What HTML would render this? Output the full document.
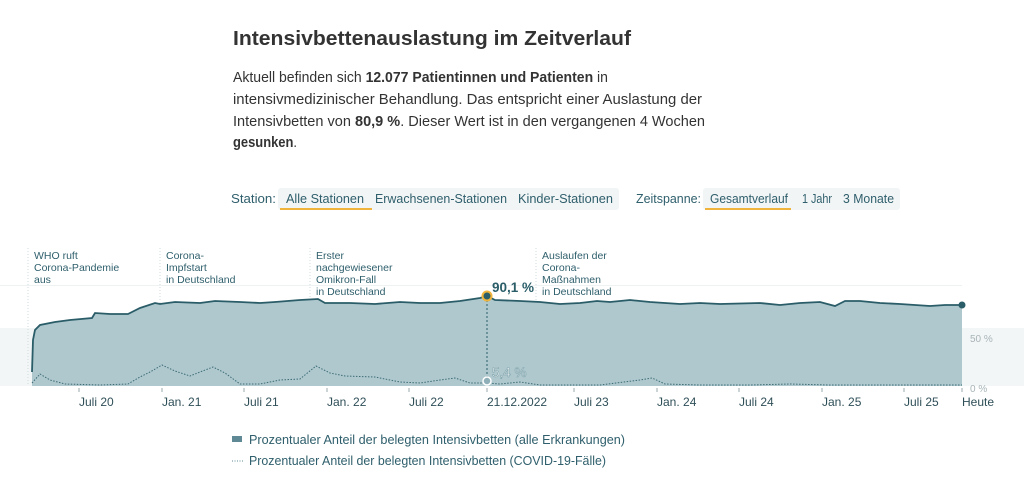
<!DOCTYPE html>
<html><head><meta charset="utf-8"><style>
html,body{margin:0;padding:0;background:#fff;width:1024px;height:481px;overflow:hidden}
svg{display:block}
text{font-family:"Liberation Sans",sans-serif}
</style></head><body>
<svg width="1024" height="481" viewBox="0 0 1024 481">
<text x="233" y="45" font-size="20" font-weight="bold" fill="#333" textLength="398" lengthAdjust="spacingAndGlyphs">Intensivbettenauslastung im Zeitverlauf</text>
<g font-size="14.5" fill="#333">
<text x="233" y="82" textLength="375" lengthAdjust="spacingAndGlyphs">Aktuell befinden sich <tspan font-weight="bold">12.077 Patientinnen und Patienten</tspan> in</text>
<text x="233" y="104" textLength="469" lengthAdjust="spacingAndGlyphs">intensivmedizinischer Behandlung. Das entspricht einer Auslastung der</text>
<text x="233" y="126" textLength="472" lengthAdjust="spacingAndGlyphs">Intensivbetten von <tspan font-weight="bold">80,9 %</tspan>. Dieser Wert ist in den vergangenen 4 Wochen</text>
<text x="233" y="147" textLength="64" lengthAdjust="spacingAndGlyphs" font-weight="bold">gesunken<tspan font-weight="normal">.</tspan></text>
</g>
<g font-size="12.5" fill="#2f5f6c">
<text x="231" y="203" textLength="45" lengthAdjust="spacingAndGlyphs">Station:</text>
<rect x="278" y="188" width="341" height="22" rx="3" fill="#f2f5f6"/>
<rect x="280" y="208" width="92" height="2" fill="#f0b43c"/>
<text x="286" y="203" textLength="78" lengthAdjust="spacingAndGlyphs">Alle Stationen</text>
<text x="375" y="203" textLength="132" lengthAdjust="spacingAndGlyphs">Erwachsenen-Stationen</text>
<text x="518" y="203" textLength="95" lengthAdjust="spacingAndGlyphs">Kinder-Stationen</text>
<text x="636" y="203" textLength="65" lengthAdjust="spacingAndGlyphs">Zeitspanne:</text>
<rect x="703" y="188" width="197" height="22" rx="3" fill="#f2f5f6"/>
<rect x="705" y="208" width="86" height="2" fill="#f0b43c"/>
<text x="710" y="203" textLength="78" lengthAdjust="spacingAndGlyphs">Gesamtverlauf</text>
<text x="802" y="203" textLength="30" lengthAdjust="spacingAndGlyphs">1 Jahr</text>
<text x="843" y="203" textLength="51" lengthAdjust="spacingAndGlyphs">3 Monate</text>
</g>
<rect x="0" y="285" width="962" height="1" fill="#eef2f3"/>
<rect x="0" y="328" width="1024" height="58" fill="#f3f6f7"/>
<g stroke="#cfdadd" stroke-dasharray="1,2" stroke-width="1">
<line x1="28" y1="248" x2="28" y2="386"/><line x1="160" y1="248" x2="160" y2="386"/><line x1="310" y1="248" x2="310" y2="386"/><line x1="536" y1="248" x2="536" y2="300"/>
</g>
<path fill="#aec8ce" d="M32,386 L32,372 L33,340 L35,330 L40,325 L55,322 L70,320 L92,318 L95,313 L110,314 L128,314 L140,308 L155,303 L160,304 L175,302 L200,303 L215,301 L240,302 L260,303 L275,302 L300,300 L318,299 L325,303 L350,303 L375,304 L400,302 L420,303 L440,303 L460,301 L480,298 L487,296 L495,300 L520,301 L540,302 L560,304 L580,303 L597,301 L610,302 L630,300 L650,302 L680,304 L700,303 L720,304 L760,303 L780,305 L800,303 L820,302 L835,306 L845,301 L860,301 L880,303 L900,304 L930,306 L945,305 L962,305 L962,386 Z"/>
<path fill="none" stroke="#2a5d68" stroke-width="1.8" d="M32,372 L33,340 L35,330 L40,325 L55,322 L70,320 L92,318 L95,313 L110,314 L128,314 L140,308 L155,303 L160,304 L175,302 L200,303 L215,301 L240,302 L260,303 L275,302 L300,300 L318,299 L325,303 L350,303 L375,304 L400,302 L420,303 L440,303 L460,301 L480,298 L487,296 L495,300 L520,301 L540,302 L560,304 L580,303 L597,301 L610,302 L630,300 L650,302 L680,304 L700,303 L720,304 L760,303 L780,305 L800,303 L820,302 L835,306 L845,301 L860,301 L880,303 L900,304 L930,306 L945,305 L962,305"/>
<path fill="none" stroke="#3d6b75" stroke-width="1" stroke-dasharray="1.5,1.5" d="M32,383 L40,374 L50,380 L65,384 L100,385 L128,384 L140,377 L150,372 L162,365 L175,371 L190,376 L200,372 L213,367 L225,373 L240,384 L260,384 L280,380 L300,379 L316,366 L330,373 L345,376 L375,377 L400,382 L420,383 L440,380 L455,378 L470,383 L487,383 L500,384 L520,382 L540,385 L600,385 L640,380 L652,378 L665,384 L700,385 L750,385 L790,384 L830,385 L962,385"/>
<line x1="487" y1="296" x2="487" y2="381" stroke="#2a5d68" stroke-dasharray="2,2"/>
<circle cx="487" cy="296" r="4.5" fill="#2a5d68" stroke="#f0b43c" stroke-width="2"/>
<circle cx="487" cy="381" r="4" fill="#8fb0b8" stroke="#fff" stroke-width="1.5"/>
<circle cx="962" cy="305" r="3.5" fill="#2a5d68"/>
<text x="492" y="292" font-size="13.5" font-weight="bold" fill="#2a5d68">90,1 %</text>
<text x="492" y="377" font-size="13.5" fill="#fff" stroke="#7fa3ab" stroke-width="0.6">5,4 %</text>
<g font-size="10.5" fill="#2f5f6c">
<text x="34" y="259">WHO ruft</text><text x="34" y="271">Corona-Pandemie</text><text x="34" y="283">aus</text>
<text x="166" y="259">Corona-</text><text x="166" y="271">Impfstart</text><text x="166" y="283">in Deutschland</text>
<text x="316" y="259">Erster</text><text x="316" y="271">nachgewiesener</text><text x="316" y="283">Omikron-Fall</text><text x="316" y="295">in Deutschland</text>
<text x="542" y="259">Auslaufen der</text><text x="542" y="271">Corona-</text><text x="542" y="283">Maßnahmen</text><text x="542" y="295">in Deutschland</text>
</g>
<g font-size="10" fill="#a8b4b7"><text x="970" y="342">50 %</text><text x="970" y="392">0 %</text></g>
<g stroke="#9aa9ad"><line x1="79" y1="388" x2="79" y2="392"/><line x1="162" y1="388" x2="162" y2="392"/><line x1="244" y1="388" x2="244" y2="392"/><line x1="327" y1="388" x2="327" y2="392"/><line x1="409" y1="388" x2="409" y2="392"/><line x1="487" y1="388" x2="487" y2="392"/><line x1="574" y1="388" x2="574" y2="392"/><line x1="657" y1="388" x2="657" y2="392"/><line x1="739" y1="388" x2="739" y2="392"/><line x1="822" y1="388" x2="822" y2="392"/><line x1="904" y1="388" x2="904" y2="392"/><line x1="962" y1="388" x2="962" y2="392"/></g>
<g font-size="12" fill="#2f4f58">
<text x="79" y="406">Juli 20</text><text x="162" y="406">Jan. 21</text><text x="244" y="406">Juli 21</text><text x="327" y="406">Jan. 22</text><text x="409" y="406">Juli 22</text><text x="487" y="406">21.12.2022</text><text x="574" y="406">Juli 23</text><text x="657" y="406">Jan. 24</text><text x="739" y="406">Juli 24</text><text x="822" y="406">Jan. 25</text><text x="904" y="406">Juli 25</text><text x="962" y="406">Heute</text>
</g>
<rect x="232" y="436" width="10" height="6" fill="#5f8a95"/>
<line x1="232" y1="461" x2="243" y2="461" stroke="#5f8a95" stroke-dasharray="1,1.5"/>
<g font-size="12.5" fill="#2f5f6c">
<text x="249" y="444" textLength="376" lengthAdjust="spacingAndGlyphs">Prozentualer Anteil der belegten Intensivbetten (alle Erkrankungen)</text>
<text x="249" y="465" textLength="357" lengthAdjust="spacingAndGlyphs">Prozentualer Anteil der belegten Intensivbetten (COVID-19-Fälle)</text>
</g>
</svg>
</body></html>
